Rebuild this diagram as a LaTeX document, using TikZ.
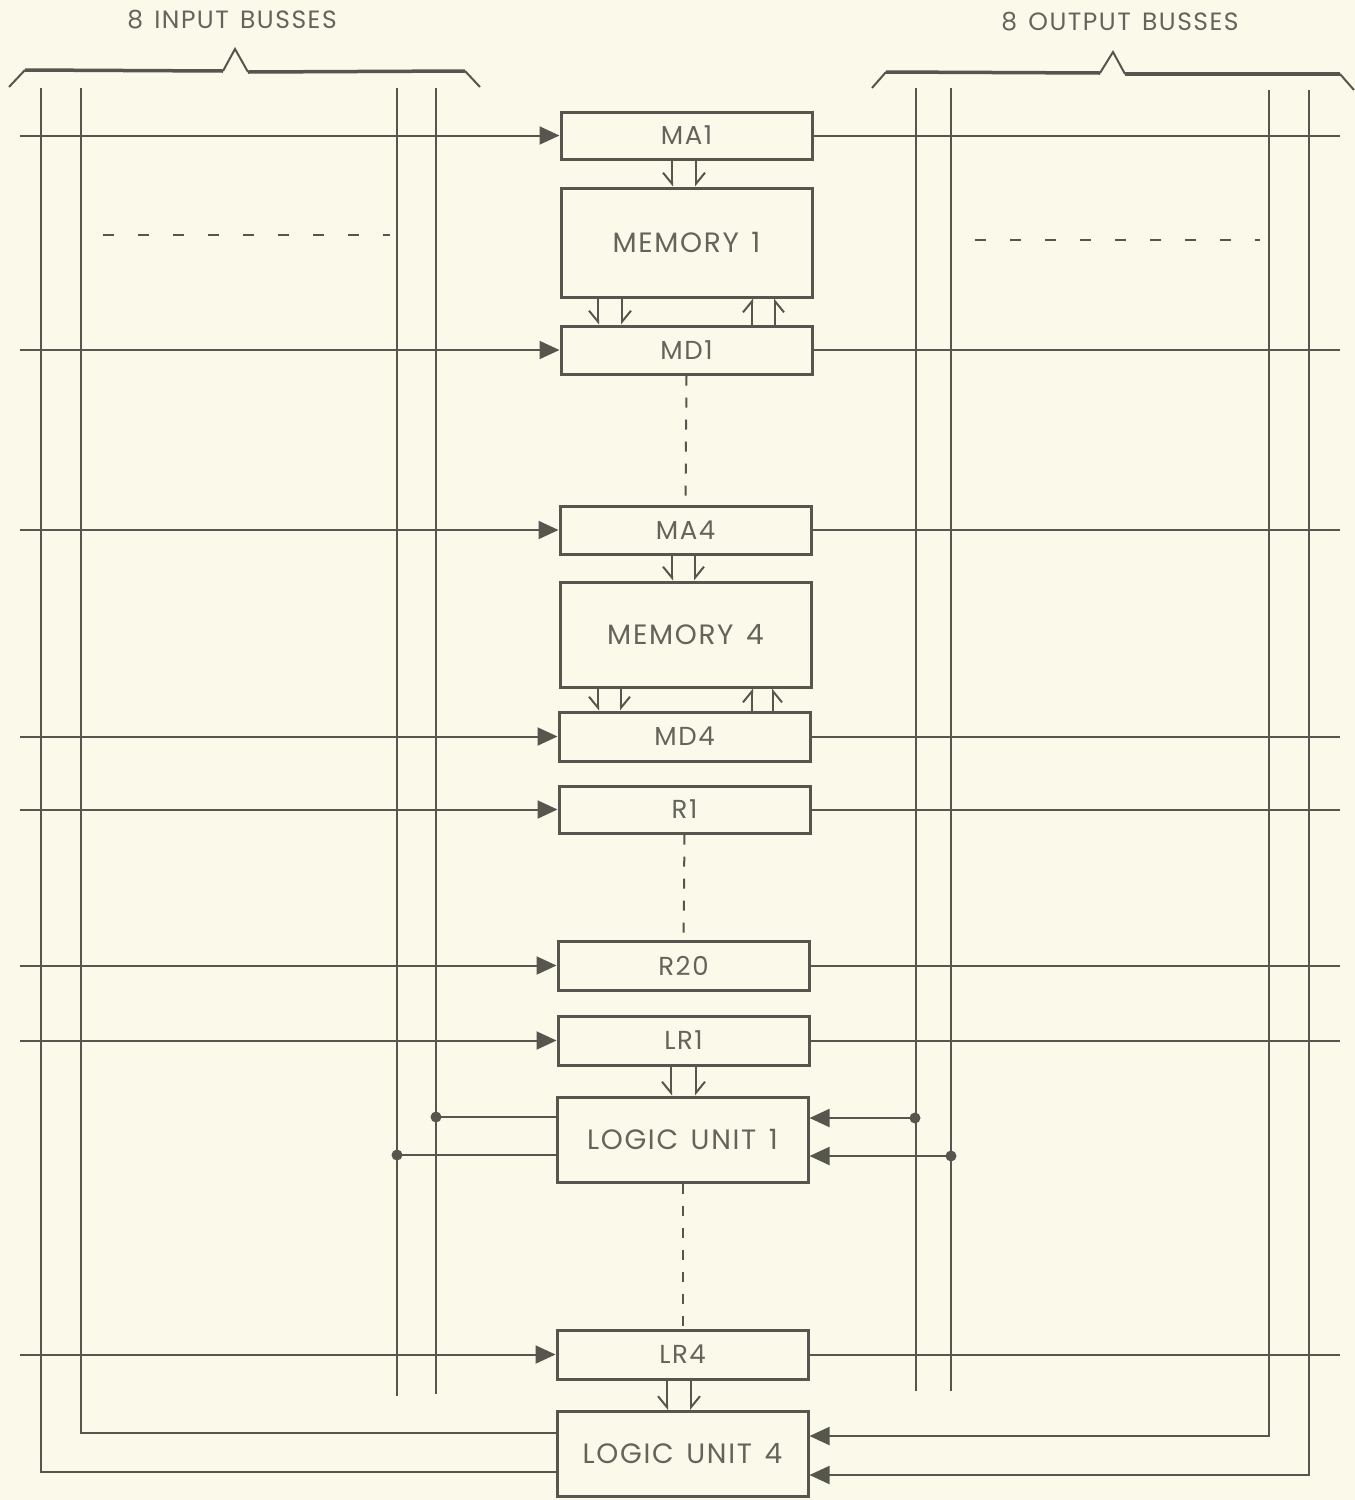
\documentclass[tikz,border=0pt]{standalone}
\usepackage{fontspec}
\setmainfont{Poppins}
\newfontfamily\lab[LetterSpace=6]{Poppins}
\usetikzlibrary{arrows.meta}
\definecolor{ink}{RGB}{86,86,78}
\definecolor{textc}{RGB}{100,100,92}
\definecolor{paper}{RGB}{251,249,234}
\newcommand{\wgap}{\hspace{0.45em}}
\begin{document}
\begin{tikzpicture}[x=1pt,y=-1pt,line width=2pt,draw=ink,
  box/.style={draw=ink,line width=3pt,fill=paper,minimum width=251pt,inner sep=0pt,
    text=textc,font=\lab\fontsize{26}{26}\selectfont},
  bigbox/.style={box,font=\lab\fontsize{28}{28}\selectfont},
  hdr/.style={text=textc,font=\lab\fontsize{25}{25}\selectfont,inner sep=0pt},
  feed/.style={-{Triangle[length=20pt,width=18pt]}},
  dnL/.style={-{Straight Barb[harpoon,swap,length=11pt,width=18pt]}},
  dnR/.style={-{Straight Barb[harpoon,length=11pt,width=18pt]}},
  upL/.style={-{Straight Barb[harpoon,length=11pt,width=18pt]}},
  upR/.style={-{Straight Barb[harpoon,swap,length=11pt,width=18pt]}},
  dot/.style={circle,fill=ink,draw=none,inner sep=0pt,minimum size=11pt},
  vdash/.style={line width=2pt,dash pattern=on 10pt off 12pt},
  hdash/.style={line width=2.5pt,dash pattern=on 11pt off 24pt},
  brace/.style={line width=2pt,line join=miter}]
\fill[paper] (0,0) rectangle (1355,1500);
\useasboundingbox (0,0) rectangle (1355,1500);

% headers and braces
\node[hdr] (tin) at (232,20) {8\wgap INPUT\wgap BUSSES};
\node[hdr] (tout) at (1120,22) {8\wgap OUTPUT\wgap BUSSES};
\draw[brace] (9,87) -- (25,70);
\draw[line width=3.5pt] (25,70) -- (223,71);
\draw[brace] (223,71) -- (235,49) -- (248,72);
\draw[line width=3.5pt] (248,72) -- (465,71);
\draw[brace] (465,71) -- (480,87);
\draw[brace] (872,88) -- (886,72);
\draw[line width=3.5pt] (886,72) -- (1100,73);
\draw[brace] (1100,73) -- (1113,52) -- (1125,74);
\draw[line width=3.5pt] (1125,74) -- (1340,74);
\draw[brace] (1340,74) -- (1354,90);

% bus lines
\coordinate (inL) at (20,0);
\coordinate (outR) at (1340,0);
\draw (397,88) -- (397,1396);
\draw (436,88) -- (436,1394);
\draw (916,88) -- (916,1391);
\draw (951,88) -- (951,1391);

% boxes
\node[box,minimum height=47pt] (MA1) at (686.5,135.5) {MA1};
\node[bigbox,minimum height=109pt] (MEM1) at (686.5,242.5) {MEMORY\wgap 1};
\node[box,minimum height=48pt] (MD1) at (686.5,350) {MD1};
\node[box,minimum height=48pt] (MA4) at (685.5,530) {MA4};
\node[bigbox,minimum height=105pt] (MEM4) at (685.5,634.5) {MEMORY\wgap 4};
\node[box,minimum height=49pt] (MD4) at (684.5,736.5) {MD4};
\node[box,minimum height=47pt] (R1) at (684.5,809.5) {R1};
\node[box,minimum height=49pt] (R20) at (683.5,965.5) {R20};
\node[box,minimum height=49pt] (LR1) at (683.5,1040.5) {LR1};
\node[bigbox,minimum height=85pt] (LU1) at (682.5,1139.5) {LOGIC\wgap UNIT\wgap 1};
\node[box,minimum height=49pt] (LR4) at (682.5,1354.5) {LR4};
\node[bigbox,minimum height=85pt] (LU4) at (682.5,1454) {LOGIC\wgap UNIT\wgap 4};

% input / output lines
\foreach \n in {MA1,MD1,MA4,MD4,R1,R20,LR1,LR4}{
  \draw[feed] (\n.west -| inL) -- (\n.west);
  \draw (\n.east) -- (\n.east -| outR);
}

% double arrows between boxes
\draw[dnL] (672,0 |- MA1.south) -- (672,0 |- MEM1.north);
\draw[dnR] (696,0 |- MA1.south) -- (696,0 |- MEM1.north);
\draw[dnL] (598,0 |- MEM1.south) -- (598,0 |- MD1.north);
\draw[dnR] (622,0 |- MEM1.south) -- (622,0 |- MD1.north);
\draw[upL] (752,0 |- MD1.north) -- (752,0 |- MEM1.south);
\draw[upR] (775,0 |- MD1.north) -- (775,0 |- MEM1.south);

\draw[dnL] (672,0 |- MA4.south) -- (672,0 |- MEM4.north);
\draw[dnR] (695,0 |- MA4.south) -- (695,0 |- MEM4.north);
\draw[dnL] (598,0 |- MEM4.south) -- (598,0 |- MD4.north);
\draw[dnR] (621,0 |- MEM4.south) -- (621,0 |- MD4.north);
\draw[upL] (752,0 |- MD4.north) -- (752,0 |- MEM4.south);
\draw[upR] (773,0 |- MD4.north) -- (773,0 |- MEM4.south);

\draw[dnL] (671,0 |- LR1.south) -- (671,0 |- LU1.north);
\draw[dnR] (696,0 |- LR1.south) -- (696,0 |- LU1.north);
\draw[dnL] (667,0 |- LR4.south) -- (667,0 |- LU4.north);
\draw[dnR] (691,0 |- LR4.south) -- (691,0 |- LU4.north);

% dashed continuations
\draw[vdash] (MD1.south) -- (MA4.north);
\draw[vdash] (R1.south) -- (R20.north);
\draw[vdash] (LU1.south) -- (LR4.north);
\draw[hdash] (103,235) -- (390,235);
\draw[hdash] (975,240) -- (1260,240);

% logic unit 1 taps
\node[dot] (d1) at (436,1117) {};
\node[dot] (d2) at (397,1155) {};
\node[dot] (d3) at (915,1118) {};
\node[dot] (d4) at (951,1156) {};
\draw (d1.center) -- (d1 -| LU1.west);
\draw (d2.center) -- (d2 -| LU1.west);
\draw[feed] (d3.center) -- (d3 -| LU1.east);
\draw[feed] (d4.center) -- (d4 -| LU1.east);

% logic unit 4 buses
\coordinate (c1) at (41,1472);
\coordinate (c2) at (81,1433);
\coordinate (c3) at (1269,1436);
\coordinate (c4) at (1309,1475);
\draw (41,88) -- (c1) -- (c1 -| LU4.west);
\draw (81,88) -- (c2) -- (c2 -| LU4.west);
\draw[feed] (1269,90) -- (c3) -- (c3 -| LU4.east);
\draw[feed] (1309,90) -- (c4) -- (c4 -| LU4.east);
\end{tikzpicture}
\end{document}
